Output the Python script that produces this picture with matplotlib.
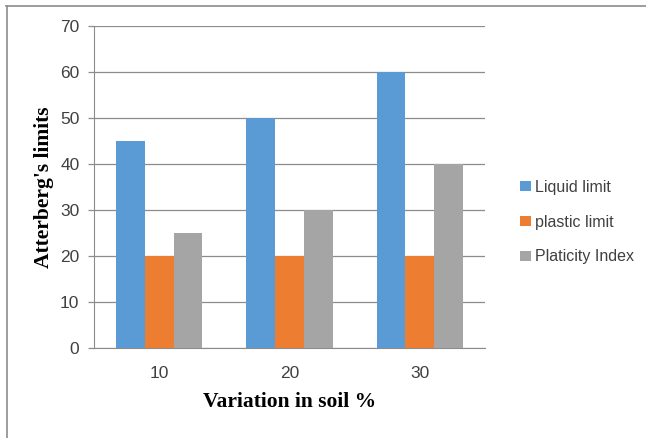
import matplotlib
matplotlib.use("Agg")
import matplotlib.pyplot as plt
from matplotlib.lines import Line2D
import numpy as np

# data
soil_pct = ["10", "20", "30"]
liquid_limit = [45, 50, 60]
plastic_limit = [20, 20, 20]
plasticity_index = [25, 30, 40]

series_names = ["Liquid limit", "plastic limit", "Platicity Index"]
colors = ["#5B9BD5", "#ED7D31", "#A5A5A5"]

fig = plt.figure(figsize=(6.46, 4.38), dpi=100)
ax = fig.add_axes([94 / 646, 90 / 438, 391 / 646, 322 / 438])

x = np.arange(len(soil_pct))
w = 0.22
for i, (vals, name, c) in enumerate(zip([liquid_limit, plastic_limit, plasticity_index], series_names, colors)):
    ax.bar(x + (i - 1) * w, vals, width=w, color=c, label=name, zorder=3)

ax.set_xlim(-0.5, 2.5)
ax.set_ylim(0, 70)
ax.set_yticks(range(0, 71, 10))
ax.set_xticks(x)
ax.set_xticklabels(soil_pct)

grey = "#8C8C8C"
ax.yaxis.grid(True, color=grey, linewidth=0.9, zorder=0)
for s in ["top", "right"]:
    ax.spines[s].set_visible(False)
ax.spines["left"].set_color(grey)
ax.spines["bottom"].set_color(grey)
ax.tick_params(axis="y", length=4.5, color=grey, width=0.9, pad=6, labelsize=12.5, labelcolor="#404040")
ax.tick_params(axis="x", length=0, pad=13, labelsize=12.5, labelcolor="#404040")
for lab in ax.get_xticklabels() + ax.get_yticklabels():
    lab.set_family("Liberation Sans")

ax.set_xlabel("Variation in soil %", family="Liberation Serif", fontweight="bold", fontsize=15.5, labelpad=8)
ax.set_ylabel("Atterberg's limits", family="Liberation Serif", fontweight="bold", fontsize=15.5, labelpad=4)

leg = ax.legend(loc="center left", bbox_to_anchor=(506 / 646, 1 - 222 / 438), bbox_transform=fig.transFigure,
                frameon=False, handlelength=0.65, handleheight=0.65, handletextpad=0.25,
                labelspacing=1.25, prop={"family": "Liberation Sans", "size": 11.5})
for t in leg.get_texts():
    t.set_color("#404040")

# outer frame lines (only top and left are visible in the reference)
fig.add_artist(Line2D([6 / 646, 1], [1 - 5.5 / 438] * 2, transform=fig.transFigure, color="#8C8C8C", lw=1.2))
fig.add_artist(Line2D([6.5 / 646] * 2, [0, 1 - 5.5 / 438], transform=fig.transFigure, color="#8C8C8C", lw=1.2))

fig.savefig("out.png", dpi=100)
